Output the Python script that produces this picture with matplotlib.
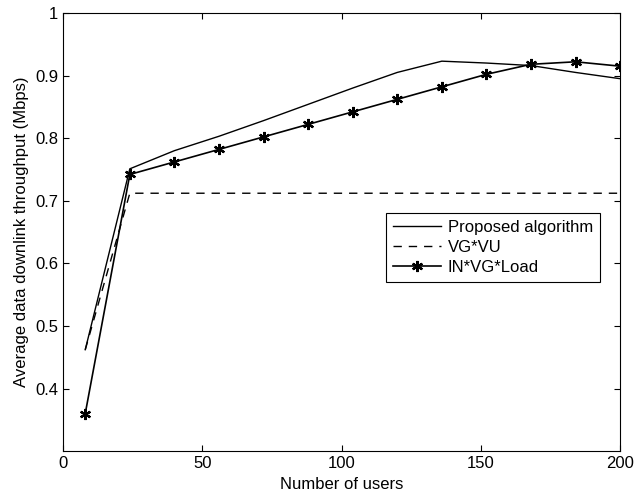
import numpy as np
from matplotlib import pyplot as plt

plt.rcParams['font.family'] = ['Liberation Sans', 'DejaVu Sans']

users = [8, 24, 40, 56, 72, 88, 104, 120, 136, 152, 168, 184, 200]
proposed = [0.462, 0.751, 0.780, 0.803, 0.828, 0.854, 0.880, 0.905, 0.923, 0.920, 0.916, 0.905, 0.895]
vg_vu = [0.462, 0.712, 0.712, 0.712, 0.712, 0.712, 0.712, 0.712, 0.712, 0.712, 0.712, 0.712, 0.712]
in_vg_load = [0.360, 0.742, 0.762, 0.782, 0.802, 0.822, 0.842, 0.862, 0.882, 0.902, 0.918, 0.922, 0.915]

fig = plt.figure(figsize=(6.36, 4.99), dpi=100)
ax = fig.add_axes([0.099, 0.096, 0.876, 0.878])

ax.plot(users, proposed, '-', color='k', lw=1.0, label='Proposed algorithm')
ax.plot(users, vg_vu, '--', color='k', lw=1.0, dashes=(6, 5), label='VG*VU')
ax.plot(users, in_vg_load, '-', color='k', lw=1.2, marker=(6, 2, 0), ms=8, mew=1.6,
        label='IN*VG*Load')

ax.set_xlim(0, 200)
ax.set_ylim(0.3, 1)
ax.set_xticks([0, 50, 100, 150, 200])
ax.set_yticks([0.4, 0.5, 0.6, 0.7, 0.8, 0.9, 1.0])
ax.set_yticklabels(['0.4', '0.5', '0.6', '0.7', '0.8', '0.9', '1'])
ax.tick_params(direction='in', labelsize=12, length=4, top=True, right=True)
ax.set_xlabel('Number of users', fontsize=12)
ax.set_ylabel('Average data downlink throughput (Mbps)', fontsize=12)

leg = ax.legend(loc='upper right', bbox_to_anchor=(0.978, 0.562), fontsize=12,
                fancybox=False, edgecolor='k', framealpha=1, handlelength=2.9,
                borderpad=0.4, labelspacing=0.3, handletextpad=0.4)
leg.get_frame().set_linewidth(0.8)

plt.savefig('out.png')
